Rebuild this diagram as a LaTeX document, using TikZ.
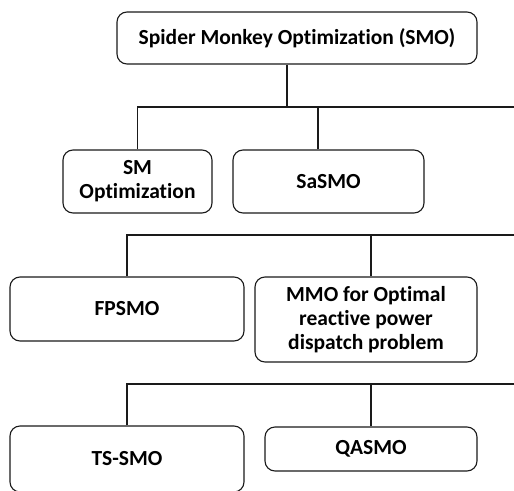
\documentclass[tikz,border=0pt]{standalone}
\usepackage{fontspec}
\setmainfont{Carlito}[Ligatures=CommonOff]
\usepackage{xcolor}
\usepackage{tikz}
\usetikzlibrary{calc,positioning}
\definecolor{inkx}{HTML}{1A1A1A}
\tikzset{
  box/.style={draw=inkx,line width=1.1pt,rounded corners=10pt,fill=white,align=center,inner sep=3pt,font=\fontsize{21.5}{24}\selectfont\bfseries},
  ln/.style={inkx,line width=1.1pt}
}
\begin{document}
\begin{tikzpicture}[x=1pt,y=-1pt]
\useasboundingbox (0,0) rectangle (514,490);
\clip (0,0) rectangle (514,490);
\node[box,minimum width=360,minimum height=52] (smo) at (297,38) {Spider Monkey Optimization (SMO)};
\node[box,minimum width=149,minimum height=63] (sm) at (137.5,181.5) {SM\\Optimization};
\node[box,minimum width=191,minimum height=63] (sasmo) at (328.5,181.5) {SaSMO};
\node[box,minimum width=234,minimum height=64] (fpsmo) at (127,309) {FPSMO};
\node[box,minimum width=222,minimum height=85] (mmo) at (366,319.5) {MMO for Optimal\\reactive power\\dispatch problem};
\node[box,minimum width=234,minimum height=66] (tssmo) at (127,459) {TS-SMO};
\node[box,minimum width=212,minimum height=44] (qasmo) at (371,449) {QASMO};
\coordinate (bus1) at (514,107);
\coordinate (bus2) at (514,235);
\coordinate (bus3) at (514,384);
% first level
\draw[ln] ([xshift=-10]smo.south) -- ([xshift=-10]smo.south |- bus1);
\draw[ln] (sm.north) |- (bus1);
\draw[ln] ([xshift=-10.5]sasmo.north) -- ([xshift=-10.5]sasmo.north |- bus1);
% second level
\draw[ln] (fpsmo.north) |- (bus2);
\draw[ln] ([xshift=5]mmo.north) -- ([xshift=5]mmo.north |- bus2);
% third level
\draw[ln] (tssmo.north) |- (bus3);
\draw[ln] (qasmo.north) -- (qasmo.north |- bus3);
\end{tikzpicture}
\end{document}
